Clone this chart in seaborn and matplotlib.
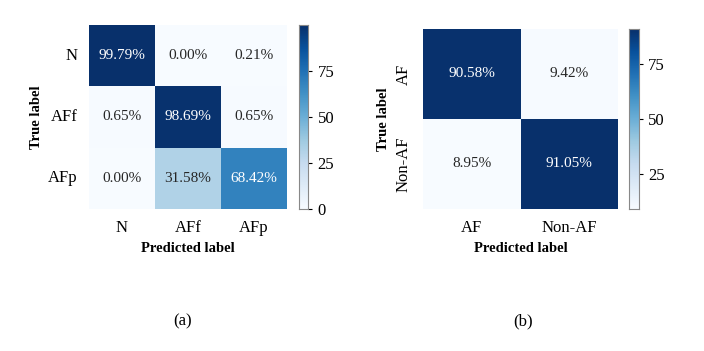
import numpy as np
import seaborn as sns
import matplotlib.pyplot as plt

# confusion matrices (row-normalised, %)
labels_a = ["N", "AFf", "AFp"]
cm_a = np.array([[99.79, 0.00, 0.21],
                 [0.65, 98.69, 0.65],
                 [0.00, 31.58, 68.42]])

labels_b = ["AF", "Non-AF"]
cm_b = np.array([[90.58, 9.42],
                 [8.95, 91.05]])

plt.rcParams['font.family'] = ['Liberation Serif', 'DejaVu Serif']
plt.rcParams['font.size'] = 12

fig = plt.figure(figsize=(7.04, 3.51), dpi=100)

ax_a = fig.add_axes([0.1264, 0.4046, 0.2813, 0.5242])
cax_a = fig.add_axes([0.4247, 0.4046, 0.0135, 0.5242])
ax_b = fig.add_axes([0.6009, 0.4046, 0.277, 0.5128])
cax_b = fig.add_axes([0.8935, 0.4046, 0.0142, 0.5128])


def draw(ax, cax, cm, labels, ylab_rot):
    annot = np.array([[f"{v:.2f}%" for v in row] for row in cm])
    sns.heatmap(cm, annot=annot, fmt="", cmap="Blues", ax=ax, cbar_ax=cax,
                xticklabels=labels, yticklabels=labels,
                annot_kws={"fontsize": 11})
    ax.tick_params(length=0, labelsize=12, pad=8)
    plt.setp(ax.get_yticklabels(), rotation=ylab_rot, va="center")
    ax.set_xlabel("Predicted label", fontweight="bold", fontsize=10.5)
    ax.set_ylabel("True label", fontweight="bold", fontsize=10.5)
    cax.tick_params(labelsize=12, length=3)
    cax.set_yticks([t for t in [0, 25, 50, 75] if cm.min() <= t <= cm.max()])
    for s in cax.spines.values():
        s.set_visible(True)
        s.set_edgecolor("#888888")


draw(ax_a, cax_a, cm_a, labels_a, 0)
draw(ax_b, cax_b, cm_b, labels_b, 90)

fig.text(0.259, 0.083, "(a)", ha="center", va="center", fontsize=12)
fig.text(0.743, 0.083, "(b)", ha="center", va="center", fontsize=12)

fig.savefig("out.png", dpi=100)
